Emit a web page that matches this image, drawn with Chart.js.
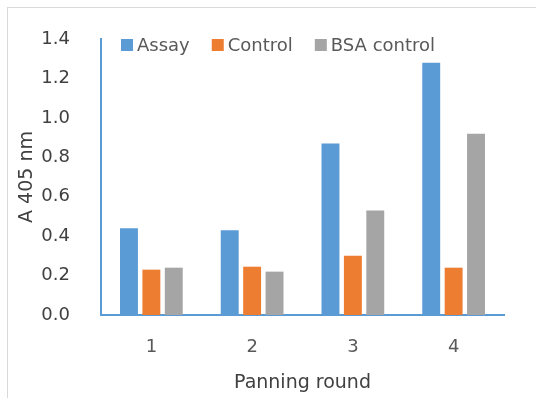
<!DOCTYPE html>
<html>
<head>
<meta charset="utf-8">
<script src="https://cdn.jsdelivr.net/npm/chart.js@4/dist/chart.umd.min.js"></script>
<style>
  html, body { margin: 0; padding: 0; background: #ffffff; }
  canvas { display: block; }
</style>
</head>
<body>
<canvas id="c" width="536" height="398"></canvas>
<script>
const categories = ["1", "2", "3", "4"];
const assay = [0.44, 0.43, 0.87, 1.28];
const control = [0.23, 0.245, 0.30, 0.24];
const bsaControl = [0.24, 0.22, 0.53, 0.92];
const seriesNames = ["Assay", "Control", "BSA control"];
const seriesColors = ["#5B9BD5", "#ED7D31", "#A5A5A5"];
const yTicks = [0, 0.2, 0.4, 0.6, 0.8, 1.0, 1.2, 1.4];
const xTitle = "Panning round";
const yTitle = "A 405 nm";

const FONT = "'DejaVu Sans', sans-serif";

const framePlugin = {
  id: 'frame',
  beforeDraw(chart) {
    const ctx = chart.ctx;
    ctx.save();
    ctx.fillStyle = '#ffffff';
    ctx.fillRect(0, 0, chart.width, chart.height);
    ctx.strokeStyle = '#D9D9D9';
    ctx.lineWidth = 1;
    ctx.strokeRect(7.5, 7.5, chart.width + 20, chart.height + 20);
    ctx.restore();
  }
};

const legendPlugin = {
  id: 'insideLegend',
  afterDatasetsDraw(chart) {
    const ctx = chart.ctx;
    const area = chart.chartArea;
    ctx.save();
    ctx.font = "18px " + FONT;
    ctx.textBaseline = 'middle';
    ctx.textAlign = 'left';
    let x = area.left + 20;
    const yc = area.top + 6;
    chart.data.datasets.forEach(ds => {
      ctx.fillStyle = ds.backgroundColor;
      ctx.fillRect(x, yc - 6, 12, 12);
      ctx.fillStyle = '#595959';
      ctx.fillText(ds.label, x + 16, yc + 1);
      x += 16 + ctx.measureText(ds.label).width + 22;
    });
    ctx.restore();
  }
};

new Chart(document.getElementById('c'), {
  type: 'bar',
  data: {
    labels: categories,
    datasets: [
      { label: seriesNames[0], data: assay, backgroundColor: seriesColors[0] },
      { label: seriesNames[1], data: control, backgroundColor: seriesColors[1] },
      { label: seriesNames[2], data: bsaControl, backgroundColor: seriesColors[2] }
    ]
  },
  options: {
    responsive: false,
    animation: false,
    devicePixelRatio: 1,
    layout: { padding: { left: 0, top: 39, right: 32, bottom: 0 } },
    datasets: { bar: { categoryPercentage: 0.667, barPercentage: 0.8 } },
    plugins: {
      legend: { display: false },
      tooltip: { enabled: false }
    },
    scales: {
      x: {
        grid: { display: false },
        border: { display: true, color: '#5B9BD5', width: 2 },
        ticks: { color: '#595959', font: { family: FONT, size: 18 }, padding: 14 },
        title: { display: true, text: xTitle, color: '#404040', font: { family: FONT, size: 19 }, padding: { top: 0, bottom: 4 } },
        afterFit(scale) { scale.height = 83; }
      },
      y: {
        min: 0,
        max: 1.4,
        afterBuildTicks(scale) { scale.ticks = yTicks.map(v => ({ value: v })); },
        grid: { display: false },
        border: { display: true, color: '#5B9BD5', width: 2 },
        ticks: {
          color: '#404040',
          font: { family: FONT, size: 18 },
          padding: 23,
          callback: v => Number(v).toFixed(1)
        },
        title: { display: true, text: yTitle, color: '#404040', font: { family: FONT, size: 19 }, padding: { top: 16, bottom: 0 } },
        afterFit(scale) { scale.width = 101; }
      }
    }
  },
  plugins: [framePlugin, legendPlugin]
});
</script>
</body>
</html>
